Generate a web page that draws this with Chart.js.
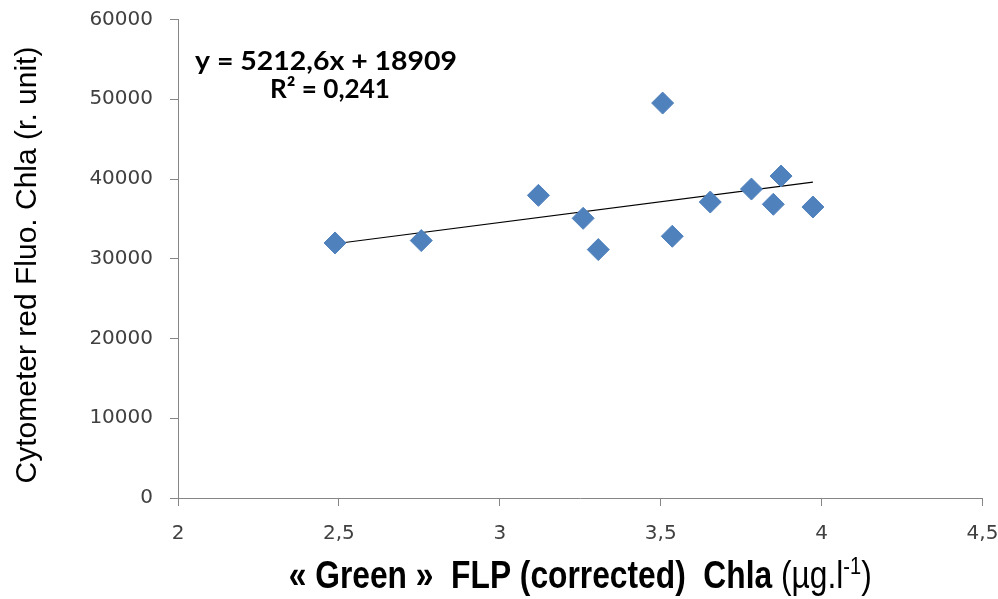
<!DOCTYPE html>
<html>
<head>
<meta charset="utf-8">
<script src="https://cdn.jsdelivr.net/npm/chart.js@4.4.1/dist/chart.umd.min.js"></script>
<style>
  html, body { margin: 0; padding: 0; background: #ffffff; }
  #wrap { width: 998px; height: 599px; position: relative; }
</style>
</head>
<body>
<div id="wrap"><canvas id="c" width="998" height="599"></canvas></div>
<script>
// Green FLP (corrected) Chla vs cytometer red fluorescence
const flpChla = [2.488, 2.756, 3.120, 3.259, 3.306, 3.506, 3.536, 3.654, 3.782, 3.850, 3.874, 3.973];
const cytoRed = [31980, 32280, 37950, 35070, 31150, 49520, 32820, 37110, 38740, 36830, 40370, 36490];

// linear trend as reported on the chart
const slope = 5212.6;
const intercept = 18909;
const rSquared = '0,241';

const xTicks = [2, 2.5, 3, 3.5, 4, 4.5];
const yTicks = [0, 10000, 20000, 30000, 40000, 50000, 60000];

const points = flpChla.map((x, i) => ({ x: x, y: cytoRed[i] }));
const xMin = Math.min(...flpChla), xMax = Math.max(...flpChla);
const trend = [xMin, xMax].map(x => ({ x: x, y: slope * x + intercept }));

const fmt = v => String(v).replace('.', ',');

// draw a text centred at cx, squeezed/stretched to the given width
function fitText(ctx, text, font, cx, baseY, width) {
  ctx.save();
  ctx.font = font;
  const w = ctx.measureText(text).width;
  ctx.translate(cx, baseY);
  ctx.scale(width / w, 1);
  ctx.textAlign = 'center';
  ctx.fillText(text, 0, 0);
  ctx.restore();
}

const annotations = {
  id: 'annotations',
  afterDraw(chart) {
    const ctx = chart.ctx;
    ctx.save();
    ctx.fillStyle = '#000';
    ctx.textBaseline = 'alphabetic';

    // regression equation
    const eqFont = 'bold 26px Lato, "Open Sans", sans-serif';
    fitText(ctx, 'y = ' + fmt(slope) + 'x + ' + intercept, eqFont, 326, 70, 262);
    fitText(ctx, 'R² = ' + rSquared, eqFont, 330, 98, 120);

    // y axis title
    ctx.save();
    ctx.translate(36, 265);
    ctx.rotate(-Math.PI / 2);
    ctx.font = '30px "Liberation Sans", Arial, sans-serif';
    ctx.textAlign = 'center';
    ctx.fillText('Cytometer red Fluo. Chla (r. unit)', 0, 0);
    ctx.restore();

    // x axis title: bold part, regular unit, superscript
    const base = 588;
    const boldFont = 'bold 38px "Liberation Sans", Arial, sans-serif';
    const regFont = '38px "Liberation Sans", Arial, sans-serif';
    const supFont = '24px "Liberation Sans", Arial, sans-serif';
    const parts = [
      { t: '« Green »  FLP (corrected)  Chla ', f: boldFont, dy: 0 },
      { t: '(µg.l', f: regFont, dy: 0 },
      { t: '-1', f: supFont, dy: -14 },
      { t: ')', f: regFont, dy: 0 }
    ];
    let total = 0;
    parts.forEach(p => { ctx.font = p.f; p.w = ctx.measureText(p.t).width; total += p.w; });
    const targetW = 583;
    const area = chart.chartArea;
    ctx.save();
    ctx.translate((area.left + area.right) / 2 - targetW / 2, base);
    ctx.scale(targetW / total, 1);
    ctx.textAlign = 'left';
    let x = 0;
    parts.forEach(p => { ctx.font = p.f; ctx.fillText(p.t, x, p.dy); x += p.w; });
    ctx.restore();
    ctx.restore();
  }
};

new Chart(document.getElementById('c'), {
  type: 'scatter',
  data: {
    datasets: [
      {
        label: 'trend',
        type: 'line',
        data: trend,
        borderColor: '#000000',
        borderWidth: 1.2,
        pointRadius: 0,
        fill: false,
        order: 2
      },
      {
        label: 'samples',
        data: points,
        pointStyle: 'rectRot',
        pointRadius: 11,
        backgroundColor: '#4F81BD',
        borderColor: '#4F81BD',
        borderWidth: 1,
        order: 1
      }
    ]
  },
  options: {
    responsive: false,
    animation: false,
    events: [],
    layout: { padding: { top: 19.5, right: 15.5, left: 0, bottom: 0 } },
    plugins: {
      legend: { display: false },
      tooltip: { enabled: false }
    },
    scales: {
      x: {
        type: 'linear',
        min: 2,
        max: 4.5,
        afterBuildTicks: s => { s.ticks = xTicks.map(v => ({ value: v })); },
        afterFit: s => { s.height = 101; s.paddingLeft = 0; s.paddingRight = 0; },
        border: { display: true, color: '#868686', width: 1 },
        grid: { display: true, drawOnChartArea: false, drawTicks: true, tickLength: 8, color: '#868686' },
        ticks: {
          color: '#404040',
          padding: 16,
          font: { family: '"DejaVu Sans", sans-serif', size: 20 },
          callback: v => fmt(v)
        }
      },
      y: {
        type: 'linear',
        min: 0,
        max: 60000,
        afterBuildTicks: s => { s.ticks = yTicks.map(v => ({ value: v })); },
        afterFit: s => { s.width = 178; s.paddingTop = 0; s.paddingBottom = 0; },
        border: { display: true, color: '#868686', width: 1 },
        grid: { display: true, drawOnChartArea: false, drawTicks: true, tickLength: 8, color: '#868686' },
        ticks: {
          color: '#404040',
          padding: 17,
          font: { family: '"DejaVu Sans", sans-serif', size: 20 },
          callback: v => String(v)
        }
      }
    }
  },
  plugins: [annotations]
});
</script>
</body>
</html>
